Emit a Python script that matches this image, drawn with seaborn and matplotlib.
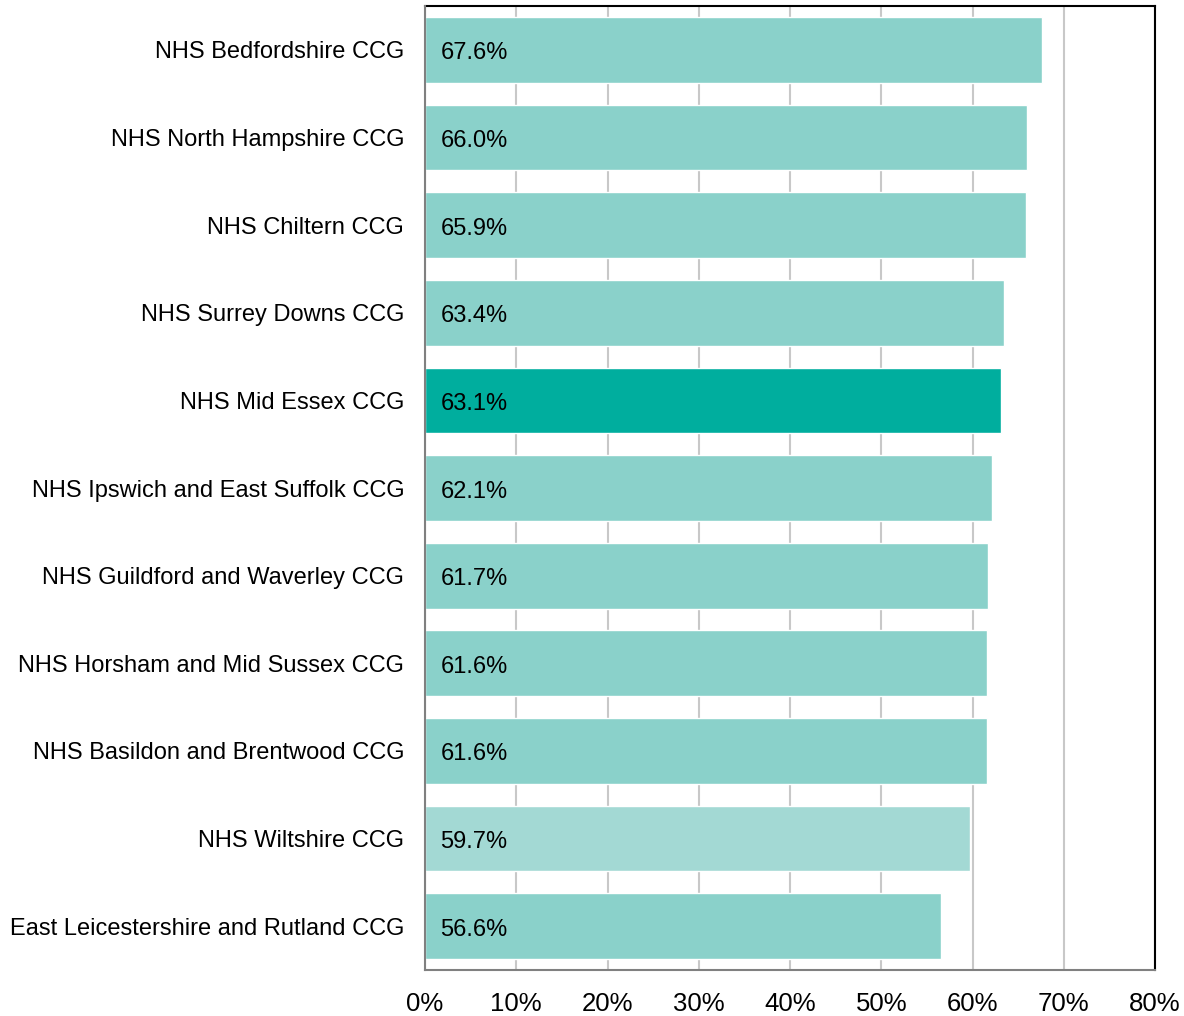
import matplotlib
matplotlib.use("Agg")
import matplotlib.pyplot as plt
import seaborn as sns
import pandas as pd
from matplotlib.ticker import PercentFormatter, FixedLocator

# data
ccgs = [
    "NHS Bedfordshire CCG",
    "NHS North Hampshire CCG",
    "NHS Chiltern CCG",
    "NHS Surrey Downs CCG",
    "NHS Mid Essex CCG",
    "NHS Ipswich and East Suffolk CCG",
    "NHS Guildford and Waverley CCG",
    "NHS Horsham and Mid Sussex CCG",
    "NHS Basildon and Brentwood CCG",
    "NHS Wiltshire CCG",
    "East Leicestershire and Rutland CCG",
]
pct = [67.6, 66.0, 65.9, 63.4, 63.1, 62.1, 61.7, 61.6, 61.6, 59.7, 56.6]
bar_colors = ["#8AD1CA"] * 4 + ["#00AE9E"] + ["#8AD1CA"] * 4 + ["#A3D9D4", "#8AD1CA"]

df = pd.DataFrame({"ccg": ccgs, "pct": pct})

sns.set_style("white")
plt.rcParams["font.family"] = ["Liberation Sans", "DejaVu Sans"]

fig = plt.figure(figsize=(11.84, 10.16), dpi=100)
ax = fig.add_axes([0.359, 0.0453, 0.6165, 0.9487])

sns.barplot(data=df, x="pct", y="ccg", hue="ccg", palette=bar_colors,
            legend=False, width=0.75, saturation=1, ax=ax)
for p in ax.patches:
    p.set_zorder(3)

for p, v in zip(ax.patches, pct):
    ax.annotate(f"{v:.1f}%", (0, p.get_y() + p.get_height() / 2),
                xytext=(11, -2.5), textcoords="offset points",
                va="center", ha="left", fontsize=17, color="black", zorder=4)

ax.set_xlim(0, 80)
ax.set_ylim(len(ccgs) - 0.5, -0.5)
ax.xaxis.set_major_locator(FixedLocator(range(0, 81, 10)))
ax.xaxis.set_major_formatter(PercentFormatter(decimals=0))
ax.grid(axis="x", color="#C8C8C8", linewidth=1.5, zorder=1)

ax.set_xlabel("")
ax.set_ylabel("")
ax.tick_params(axis="x", labelsize=18.5, length=5, width=1.5, color="#808080",
               direction="inout", pad=13, labelcolor="black")
ax.tick_params(axis="y", labelsize=17, length=0, pad=15, labelcolor="black")

# ticks on the left spine sit between categories
ax.set_yticks(range(len(ccgs)))
ax.set_yticks([i + 0.5 for i in range(-1, len(ccgs))], minor=True)
ax.tick_params(axis="y", which="minor", length=6, width=1.5, color="#808080",
               direction="out")

for side in ["left", "bottom"]:
    ax.spines[side].set_color("#808080")
    ax.spines[side].set_linewidth(1.5)
    ax.spines[side].set_zorder(5)
for side in ["top", "right"]:
    ax.spines[side].set_color("black")
    ax.spines[side].set_linewidth(1.5)

fig.savefig("out.png", dpi=100)
